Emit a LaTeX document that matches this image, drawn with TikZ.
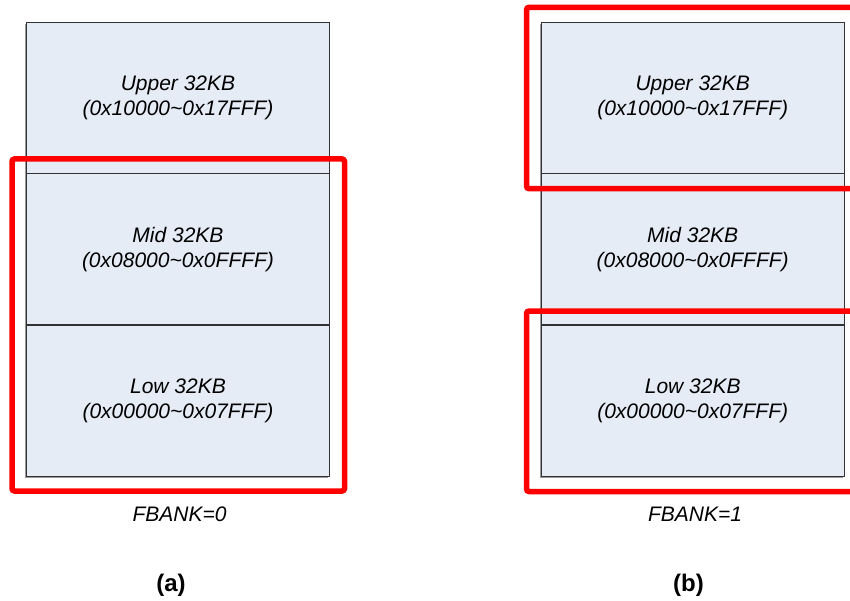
\documentclass[tikz,border=0pt]{standalone}
\usepackage{fontspec}
\setmainfont{Liberation Sans}
\definecolor{bankfill}{HTML}{E5ECF6}
\definecolor{selred}{HTML}{FF0000}
\begin{document}
\begin{tikzpicture}[x=1pt,y=-1pt,
  bank/.style={draw=black!80, line width=0.9pt, fill=bankfill,
    minimum width=302.6pt, minimum height=151pt, inner sep=0pt,
    align=center, font=\fontsize{21}{25}\selectfont\itshape},
  sel/.style={draw=selred, line width=5.5pt, rounded corners=2.5pt},
  caption/.style={font=\fontsize{21}{25}\selectfont\itshape, anchor=base},
  tag/.style={font=\fontsize{24}{28}\selectfont\bfseries, anchor=base},
  shade/.style={fill=black!40}]
  \useasboundingbox (0,0) rectangle (850,601);

  % soft shadows under the two memory columns
  \fill[shade] (25.2,24.5) rectangle (327.8,478.2);
  \fill[shade] (539.8,24.5) rectangle (842.5,478.2);

  % FBANK = 0 memory map
  \node[bank] (aU) at (178,98)    {Upper 32KB\\(0x10000\textasciitilde 0x17FFF)};
  \node[bank] (aM) at (178,249.2) {Mid 32KB\\(0x08000\textasciitilde 0x0FFFF)};
  \node[bank] (aL) at (178,400.5) {Low 32KB\\(0x00000\textasciitilde 0x07FFF)};

  % FBANK = 1 memory map
  \node[bank] (bU) at (692.7,98)    {Upper 32KB\\(0x10000\textasciitilde 0x17FFF)};
  \node[bank] (bM) at (692.7,249.2) {Mid 32KB\\(0x08000\textasciitilde 0x0FFFF)};
  \node[bank] (bL) at (692.7,400.5) {Low 32KB\\(0x00000\textasciitilde 0x07FFF)};

  % visible windows
  \draw[sel] (12,159) rectangle (344.5,491);
  \draw[sel] (526.5,7.3) rectangle (860,188.7);
  \draw[sel] (526.5,311) rectangle (860,491.5);

  % captions
  \node[caption] (fa) at (179.5,521) {FBANK=0};
  \node[caption] (fb) at (695,521)   {FBANK=1};
  \node[tag] (ta) at (171,591)   {(a)};
  \node[tag] (tb) at (688.5,591) {(b)};
\end{tikzpicture}
\end{document}
